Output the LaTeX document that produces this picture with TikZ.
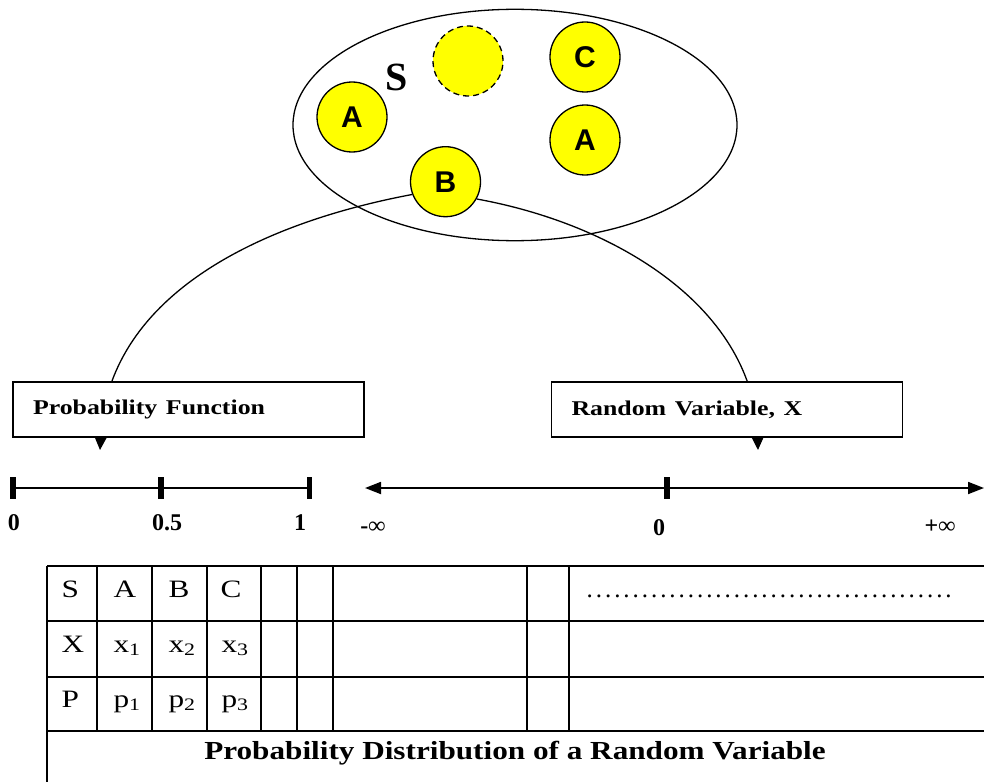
\documentclass[tikz,border=0pt]{standalone}
\usepackage{fontspec}
\setmainfont{Liberation Serif}
\setsansfont{Liberation Sans}
\usepackage{graphicx}
\usepackage{tikz}
\usetikzlibrary{arrows.meta}
\definecolor{BallYellow}{HTML}{FFFF00}
\newcommand{\stretchtext}[2][1.2]{\scalebox{#1}[1]{#2}}
\newcommand{\dotrow}{\leaders\hbox to 9.2pt{\hss.\hss}\hskip 368pt\hbox{}}

\begin{document}
\begin{tikzpicture}[x=1pt,y=-1pt,
  ball/.style={circle,draw,line width=1.3pt,fill=BallYellow,minimum size=70pt,inner sep=0pt,
    font=\sffamily\bfseries\fontsize{30}{30}\selectfont},
  funcbox/.style={draw,line width=1.3pt,fill=white,minimum height=55pt,text width=311pt,
    inner xsep=20pt,align=left,font=\bfseries\fontsize{21}{21}\selectfont},
  numtick/.style={line width=5.5pt},
  numlab/.style={anchor=base,font=\bfseries\fontsize{24}{24}\selectfont},
  cell/.style={anchor=base west,font=\fontsize{25}{25}\selectfont},
  gridline/.style={line width=2pt}]
  \useasboundingbox (0,0) rectangle (984,781);
  \clip (0,0) rectangle (984,781);

  % sample space
  \draw[line width=1.3pt] (515,125) ellipse [x radius=222, y radius=115.7];
  \node[font=\bfseries\fontsize{40}{40}\selectfont] (slab) at (397,77) {S};
  \node[ball] (a1) at (352,117) {A};
  \node[ball,dash pattern=on 6pt off 4pt] (empty) at (468,61) {};
  \node[ball] (c) at (585,57) {C};
  \node[ball] (a2) at (585,140) {A};
  \node[ball] (b) at (445.5,181.7) {B};

  % the two mappings
  \coordinate (pftip) at (100,450);
  \coordinate (rvtip) at (758,450);
  \draw[line width=1.3pt,-{Triangle[length=14pt,width=13pt]}]
    (b.201) .. controls (250,225) and (108,300) .. (pftip);
  \draw[line width=1.3pt,-{Triangle[length=14pt,width=13pt]}]
    (b.331) .. controls (620,225) and (754,310) .. (rvtip);
  \node[funcbox] (pf) at (188.5,409.5) {\stretchtext[1.23]{Probability Function}};
  \node[funcbox] (rv) at (727,409.5) {\stretchtext[1.23]{Random Variable, X}};

  % number lines
  \draw[line width=1.8pt] (13,488) -- (309.5,488);
  \foreach \x in {13,161,309.5}
    \draw[numtick] (\x,477) -- (\x,499);
  \draw[line width=1.8pt,{Triangle[length=16pt,width=12pt]}-{Triangle[length=16pt,width=12pt]}]
    (365,488) -- (984,488);
  \draw[numtick] (667,477) -- (667,499);
  \node[numlab] (pzero) at (14,530) {0};
  \node[numlab] (phalf) at (167,530) {0.5};
  \node[numlab] (pone) at (300,530) {1};
  \node[numlab] (xminus) at (373,533) {-∞};
  \node[numlab] (xzero) at (659,535) {0};
  \node[numlab] (xplus) at (940,533) {+∞};

  % distribution table
  \foreach \y in {566,621,677,731}
    \draw[gridline] (47,\y) -- (1000,\y);
  \foreach \x in {97,152,207,261,297,333,527,569}
    \draw[gridline] (\x,566) -- (\x,731);
  \draw[gridline] (47,566) -- (47,790);
  \foreach \x/\t/\n in {58/S/hs,110/A/ha,165/B/hb,217/C/hc}
    \node[cell] (\n) at (\x,597) {\stretchtext[1.25]{\t}};
  \foreach \x/\t/\n in {58/X/vx,110/x\textsubscript{1}/x1,165/x\textsubscript{2}/x2,218/x\textsubscript{3}/x3}
    \node[cell] (\n) at (\x,652) {\stretchtext[1.25]{\t}};
  \foreach \x/\t/\n in {58/P/vp,110/p\textsubscript{1}/p1,165/p\textsubscript{2}/p2,218/p\textsubscript{3}/p3}
    \node[cell] (\n) at (\x,707) {\stretchtext[1.25]{\t}};
  \node[cell,inner sep=0pt] (dots) at (585,597) {\dotrow};
  \node[anchor=base,font=\bfseries\fontsize{26}{26}\selectfont] (caption) at (515,759)
    {\stretchtext[1.2]{Probability Distribution of a Random Variable}};
\end{tikzpicture}
\end{document}
